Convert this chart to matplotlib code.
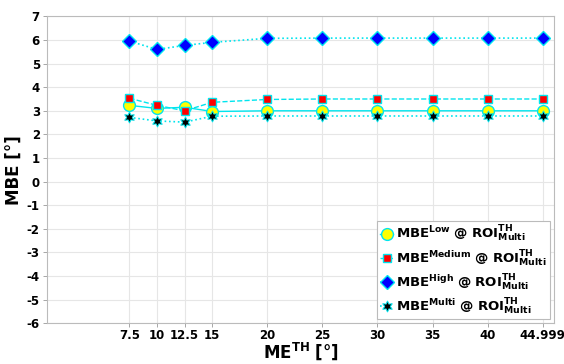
import numpy as np
import matplotlib
matplotlib.use('Agg')
import matplotlib.pyplot as plt

plt.rcParams['font.family'] = 'DejaVu Sans'
plt.rcParams['mathtext.fontset'] = 'dejavusans'

# data
me_th = [7.5, 10, 12.5, 15, 20, 25, 30, 35, 40, 44.999]
tick_labels = ['7.5', '10', '12.5', '15', '20', '25', '30', '35', '40', '44.999']
mbe_low = [3.23, 3.1, 3.15, 2.97, 3.0, 3.0, 3.0, 3.0, 3.0, 3.0]
mbe_medium = [3.53, 3.23, 3.0, 3.36, 3.48, 3.5, 3.5, 3.5, 3.5, 3.5]
mbe_high = [5.95, 5.6, 5.77, 5.9, 6.07, 6.08, 6.08, 6.08, 6.08, 6.08]
mbe_multi = [2.72, 2.57, 2.52, 2.77, 2.78, 2.78, 2.78, 2.78, 2.78, 2.78]

fig = plt.figure(figsize=[5.64, 3.64], dpi=100)
ax = fig.add_axes([0.083, 0.112, 0.899, 0.843])

cyan = '#00e5ee'
ax.plot(me_th, mbe_low, '-', color=cyan, lw=1, marker='o', ms=8.5,
        mfc='yellow', mec=cyan, mew=1,
        label=r'$\mathbf{MBE^{Low}}$ $\mathbf{@}$ $\mathbf{ROI^{TH}_{Multi}}$')
ax.plot(me_th, mbe_medium, '--', color=cyan, lw=1, marker='s', ms=6,
        mfc='red', mec=cyan, mew=1,
        label=r'$\mathbf{MBE^{Medium}}$ $\mathbf{@}$ $\mathbf{ROI^{TH}_{Multi}}$')
ax.plot(me_th, mbe_high, ':', color=cyan, lw=1.2, marker='D', ms=7.5,
        mfc='blue', mec=cyan, mew=1,
        label=r'$\mathbf{MBE^{High}}$ $\mathbf{@}$ $\mathbf{ROI^{TH}_{Multi}}$')
ax.plot(me_th, mbe_multi, ':', color=cyan, lw=1.2, marker=(6, 1, 0), ms=8,
        mfc='black', mec=cyan, mew=0.7,
        label=r'$\mathbf{MBE^{Multi}}$ $\mathbf{@}$ $\mathbf{ROI^{TH}_{Multi}}$')

ax.set_xlim(0, 46)
ax.set_ylim(-6, 7)
ax.set_xticks(me_th)
ax.set_xticklabels(tick_labels, fontweight='bold', fontsize=8.5)
ax.set_yticks(np.arange(-6, 8, 1))
ax.set_yticklabels([str(v) for v in range(-6, 8)], fontweight='bold', fontsize=8.5)
ax.tick_params(length=3, color='#999999', width=0.6, pad=2)
ax.tick_params(axis='x', pad=1)
ax.grid(True, color='#e6e6e6', lw=0.8)
for s in ax.spines.values():
    s.set_color('#bbbbbb')
    s.set_linewidth(0.8)

ax.set_xlabel(r'$\mathbf{ME^{TH}}$ $\mathbf{[°]}$', fontsize=12, labelpad=-1)
ax.set_ylabel('MBE [°]', fontsize=12, fontweight='bold', labelpad=3)

leg = ax.legend(loc='lower right', fontsize=9.5, handlelength=1.0, handletextpad=0.2,
                borderpad=0.25, labelspacing=0.3, fancybox=False, framealpha=1,
                edgecolor='#bbbbbb', borderaxespad=0.3)
leg.get_frame().set_linewidth(0.8)

fig.savefig('out.png', dpi=100)
